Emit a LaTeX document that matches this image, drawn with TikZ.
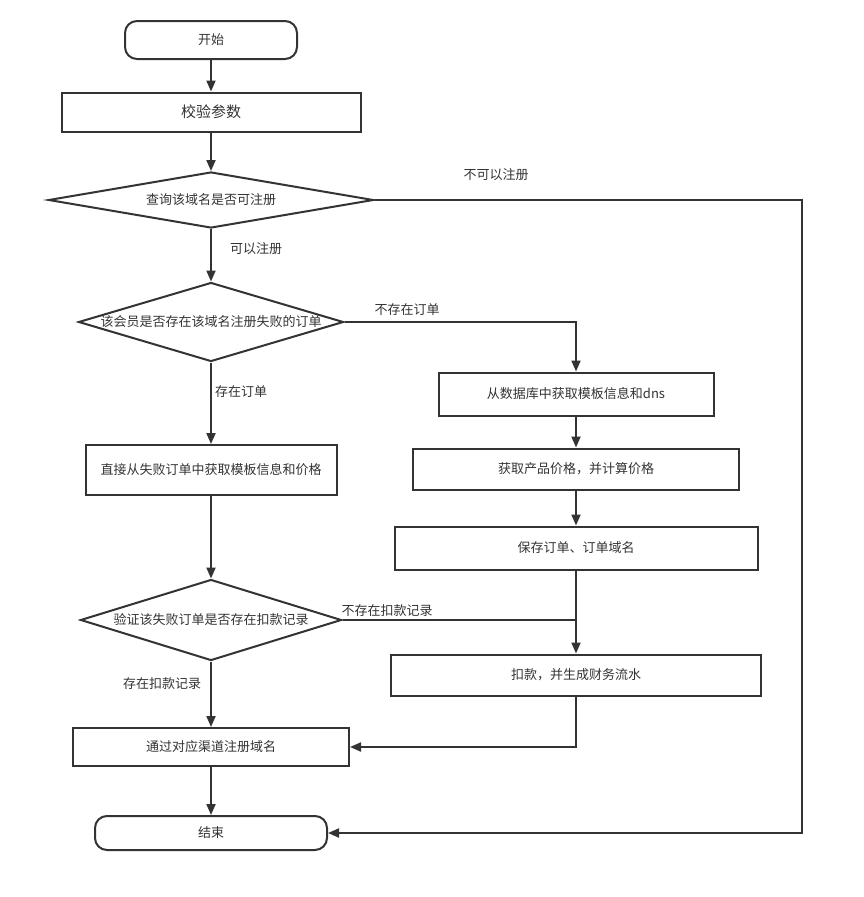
\documentclass[tikz,border=0pt]{standalone}
\usepackage{fontspec}
\setmainfont{Noto Sans CJK SC}
\usetikzlibrary{shapes.geometric,arrows.meta}
\definecolor{ink}{HTML}{333333}
\tikzset{
  base/.style={draw=ink, line width=2pt, text=ink, inner sep=0pt, font=\fontsize{13}{15}\selectfont},
  term/.style={base, rectangle, rounded corners=12pt},
  proc/.style={base, rectangle},
  dia/.style={base, diamond, label={[text=ink, font=\fontsize{13}{15}\selectfont]center:#1}},
  lbl/.style={text=ink, inner sep=0pt, font=\fontsize{13}{15}\selectfont},
  line/.style={draw=ink, line width=2pt},
  arr/.style={line, -{Triangle[length=11pt, width=9pt]}}
}
\begin{document}
\begin{tikzpicture}[x=1pt, y=-1pt]
\useasboundingbox (0,0) rectangle (864,897);
% left column
\node[term, minimum width=172pt, minimum height=38pt] (start) at (211,40) {开始};
\node[proc, minimum width=299pt, minimum height=39pt, font=\fontsize{15}{17}\selectfont] (chk) at (211,112) {校验参数};
\node[dia={查询该域名是否可注册}, minimum width=325pt, minimum height=56pt] (d1) at (211,200) {};
\node[dia={该会员是否存在该域名注册失败的订单}, minimum width=265pt, minimum height=79pt] (d2) at (211,322) {};
\node[proc, minimum width=251pt, minimum height=50pt] (direct) at (211,470) {直接从失败订单中获取模板信息和价格};
\node[dia={验证该失败订单是否存在扣款记录}, minimum width=261pt, minimum height=81pt] (d3) at (211,620) {};
\node[proc, minimum width=276pt, minimum height=38pt] (reg) at (211,747) {通过对应渠道注册域名};
\node[term, minimum width=232pt, minimum height=34pt] (endn) at (211,833) {结束};
% right column
\node[proc, minimum width=275pt, minimum height=43pt] (db) at (576,394) {从数据库中获取模板信息和dns};
\node[proc, minimum width=326pt, minimum height=41pt] (price) at (576,469) {获取产品价格，并计算价格};
\node[proc, minimum width=363pt, minimum height=43pt] (save) at (576,548) {保存订单、订单域名};
\node[proc, minimum width=370pt, minimum height=41pt] (pay) at (576,675) {扣款，并生成财务流水};
% labels
\node[lbl] (l1) at (256,249) {可以注册};
\node[lbl] (l2) at (496,175) {不可以注册};
\node[lbl] (l3) at (407,310) {不存在订单};
\node[lbl] (l4) at (241,392) {存在订单};
\node[lbl] (l5) at (387,611) {不存在扣款记录};
\node[lbl] (l6) at (162,684) {存在扣款记录};
% connectors
\coordinate (c1) at (802,200);
\draw[arr] (start) -- (chk);
\draw[arr] (chk) -- (d1);
\draw[arr] (d1) -- (d2);
\draw[arr] (d1.east) -- (c1) |- (endn.east);
\draw[arr] (d2.east) -| (db.north);
\draw[arr] (d2) -- (direct);
\draw[arr] (direct) -- (d3);
\draw[arr] (db) -- (price);
\draw[arr] (price) -- (save);
\draw[arr] (save.south) -- (pay.north);
\draw[line] (d3.east) -- (d3.east -| pay.north);
\draw[arr] (d3) -- (reg);
\draw[arr] (pay.south) |- (reg.east);
\draw[arr] (reg) -- (endn);
\end{tikzpicture}
\end{document}
